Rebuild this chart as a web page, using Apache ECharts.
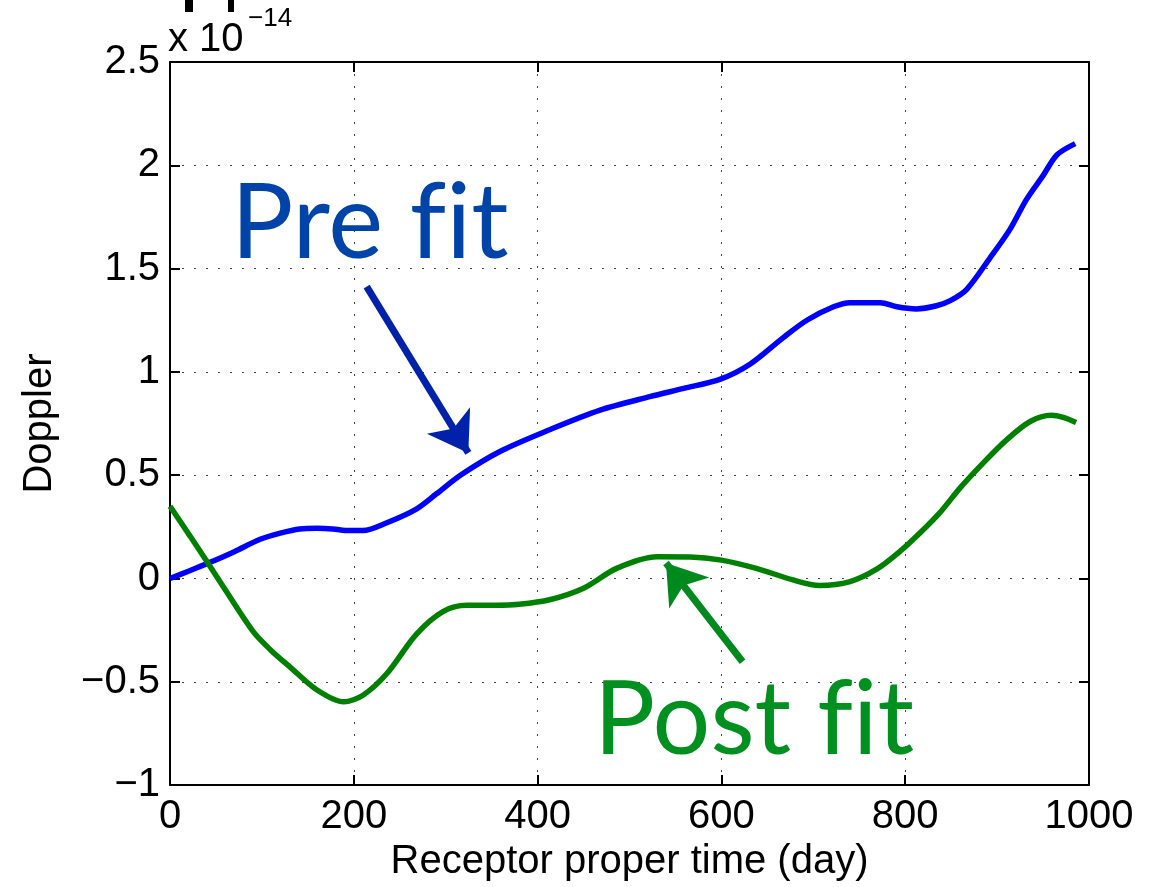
<!DOCTYPE html>
<html>
<head>
<meta charset="utf-8">
<script src="https://cdn.jsdelivr.net/npm/echarts@6/dist/echarts.min.js"></script>
<style>
  html, body { margin: 0; padding: 0; background: #fff; }
  #chart { width: 1170px; height: 887px; }
</style>
</head>
<body>
<div id="chart"></div>
<script>
// Doppler residual (units of 1e-14) versus receptor proper time in days
const preFitDays = [0, 20, 43, 70, 98, 120, 141, 160, 177, 195, 210, 236, 268, 290, 316, 359, 413, 468, 522, 559, 599, 631, 667, 693, 722, 740, 773, 791, 812, 834, 849, 867, 892, 914, 932, 950, 965, 985];
const preFit = [0.00, 0.035, 0.077, 0.13, 0.19, 0.22, 0.24, 0.243, 0.24, 0.232, 0.232, 0.27, 0.336, 0.41, 0.50, 0.615, 0.72, 0.815, 0.88, 0.92, 0.965, 1.037, 1.165, 1.25, 1.315, 1.335, 1.335, 1.315, 1.305, 1.32, 1.345, 1.40, 1.55, 1.69, 1.835, 1.95, 2.05, 2.105];

const postFitDays = [0, 22, 40, 58, 91, 110, 131, 160, 189, 210, 236, 268, 297, 323, 355, 380, 413, 450, 486, 530, 566, 600, 638, 678, 707, 740, 769, 794, 816, 838, 860, 885, 910, 936, 959, 972, 986];
const postFit = [0.35, 0.204, 0.083, -0.04, -0.26, -0.348, -0.43, -0.54, -0.597, -0.565, -0.46, -0.27, -0.16, -0.13, -0.13, -0.125, -0.103, -0.047, 0.049, 0.105, 0.104, 0.089, 0.049, -0.007, -0.034, -0.015, 0.045, 0.13, 0.22, 0.32, 0.44, 0.56, 0.67, 0.76, 0.79, 0.78, 0.755];

const xTicks = [0, 200, 400, 600, 800, 1000];
const yTicks = [-1, -0.5, 0, 0.5, 1, 1.5, 2, 2.5];

// annotation arrows: [tail, head] in data coordinates
const preArrow = [[214, 1.413], [324.6, 0.608]];
const postArrow = [[623, -0.403], [539.7, 0.075]];

const FONT = '"Liberation Sans", Arial, Helvetica, sans-serif';
const minus = v => String(v).replace('-', '\u2212');

const xMin = xTicks[0], xMax = xTicks[xTicks.length - 1], xStep = xTicks[1] - xTicks[0];
const yMin = yTicks[0], yMax = yTicks[yTicks.length - 1], yStep = yTicks[1] - yTicks[0];

const zip = (xs, ys) => xs.map((x, i) => [x, ys[i]]);

function axisBase(extra) {
  return Object.assign({
    type: 'value',
    axisLine: { show: true, onZero: false, lineStyle: { color: '#000', width: 2 } },
    axisTick: { show: true, inside: true, length: 10, lineStyle: { color: '#000', width: 2 } },
    splitLine: { show: false }
  }, extra);
}

function arrowLine(pts, color) {
  return {
    silent: true, animation: false,
    symbol: ['none', 'arrow'], symbolSize: 38,
    label: { show: false },
    lineStyle: { color: color, width: 7, type: 'solid' },
    itemStyle: { color: color },
    emphasis: { disabled: true },
    data: [[{ coord: pts[0] }, { coord: pts[1] }]]
  };
}

const chart = echarts.init(document.getElementById('chart'), null, { renderer: 'canvas' });

const option = {
  animation: false,
  backgroundColor: '#fff',
  grid: { left: 170, right: 81, top: 62, bottom: 95, containLabel: false },
  xAxis: [
    axisBase({
      position: 'bottom', min: xMin, max: xMax, interval: xStep,
      name: 'Receptor proper time (day)', nameLocation: 'middle', nameGap: 56,
      nameTextStyle: { fontFamily: FONT, fontSize: 40, color: '#000' },
      axisLabel: { fontFamily: FONT, fontSize: 40, color: '#000', margin: 12, formatter: minus },
      splitLine: { show: true, lineStyle: { color: '#444', width: 1, type: [2, 10] } }
    }),
    axisBase({ position: 'top', min: xMin, max: xMax, interval: xStep, axisLabel: { show: false } })
  ],
  yAxis: [
    axisBase({
      position: 'left', min: yMin, max: yMax, interval: yStep,
      name: 'Doppler', nameLocation: 'middle', nameGap: 110,
      nameTextStyle: { fontFamily: FONT, fontSize: 40, color: '#000' },
      axisLabel: { fontFamily: FONT, fontSize: 40, color: '#000', margin: 10, formatter: minus },
      splitLine: { show: true, lineStyle: { color: '#444', width: 1, type: [2, 10] } }
    }),
    axisBase({ position: 'right', min: yMin, max: yMax, interval: yStep, axisLabel: { show: false } })
  ],
  series: [
    {
      name: 'Pre fit', type: 'line', data: zip(preFitDays, preFit),
      showSymbol: false, smooth: 0.3, z: 3,
      lineStyle: { color: '#0000ff', width: 5.5 },
      markLine: arrowLine(preArrow, '#0022aa')
    },
    {
      name: 'Post fit', type: 'line', data: zip(postFitDays, postFit),
      showSymbol: false, smooth: 0.3, z: 4,
      lineStyle: { color: '#008000', width: 5.5 },
      markLine: arrowLine(postArrow, '#008a1e')
    }
  ],
  graphic: [
    // exponent of the y axis
    { type: 'text', left: 168, top: 20, style: { text: 'x 10', font: '40px ' + FONT, fill: '#000' } },
    { type: 'text', left: 248, top: 6, style: { text: '\u221214', font: '26px ' + FONT, fill: '#000' } },
    // remnants of the heading above the frame
    { type: 'rect', shape: { x: 185, y: 0, width: 8, height: 12 }, style: { fill: '#000' } },
    { type: 'rect', shape: { x: 228, y: 0, width: 6, height: 12 }, style: { fill: '#000' } },
    // series captions (ZWNJ keeps f and i as separate glyphs)
    { type: 'text', left: 231, top: 172, z: 10, style: { text: 'Pre f\u200Cit', font: '104px Lato, "Open Sans", sans-serif', fill: '#0044aa' } },
    { type: 'text', left: 594, top: 670, z: 10, style: { text: 'Post f\u200Cit', font: '102px Lato, "Open Sans", sans-serif', fill: '#00901f' } }
  ]
};

chart.setOption(option);
</script>
</body>
</html>
